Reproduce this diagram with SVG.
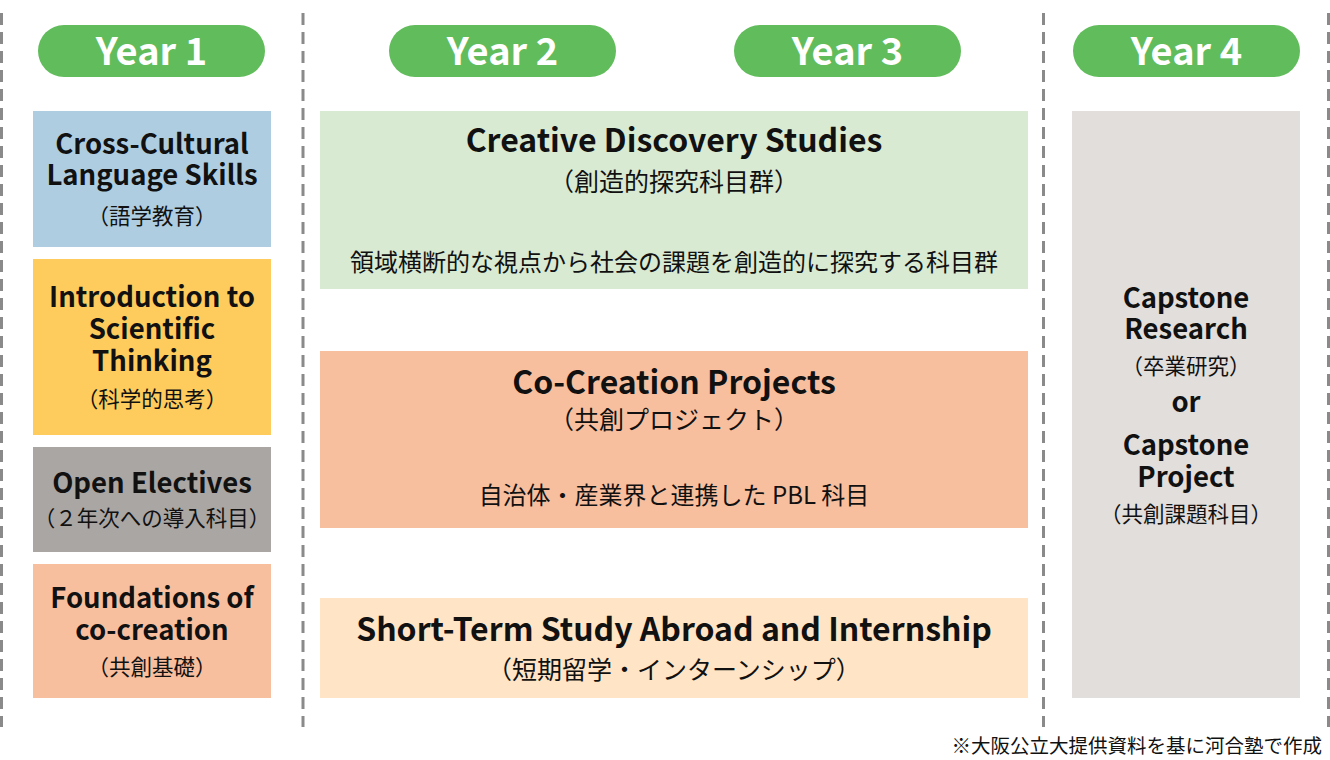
<svg xmlns="http://www.w3.org/2000/svg" width="1330" height="760" viewBox="0 0 1330 760">
<style>
text{font-family:"Noto Sans CJK JP","Noto Sans",sans-serif;fill:#111;text-anchor:middle}
.yr{fill:#fff;font-weight:700;font-size:38px}
.pill{fill:#61bc5b}
.en{font-weight:700;font-size:27.5px}
.enm{font-weight:700;font-size:32px}
.jp{font-size:21.5px}
.jpm{font-size:25px}
.desc{font-size:24px}
.sep{stroke:#8a8a8a;stroke-width:3;stroke-dasharray:12 7;fill:none}
</style>
<rect width="1330" height="760" fill="#fff"/>
<g id="separators">
<line class="sep" x1="1.5" y1="13" x2="1.5" y2="727"/>
<line class="sep" x1="303" y1="13" x2="303" y2="727"/>
<line class="sep" x1="1043.5" y1="13" x2="1043.5" y2="727"/>
<line class="sep" x1="1328.5" y1="13" x2="1328.5" y2="727"/>
</g>
<g id="year1"><rect class="pill" x="38" y="25" width="227" height="52" rx="26"/><text class="yr" x="151.5" y="65">Year 1</text></g>
<g id="year2"><rect class="pill" x="389" y="25" width="227" height="52" rx="26"/><text class="yr" x="502.5" y="65">Year 2</text></g>
<g id="year3"><rect class="pill" x="734" y="25" width="227" height="52" rx="26"/><text class="yr" x="847.5" y="65">Year 3</text></g>
<g id="year4"><rect class="pill" x="1073" y="25" width="227" height="52" rx="26"/><text class="yr" x="1186.5" y="65">Year 4</text></g>

<g id="cross-cultural">
<rect x="33" y="111" width="238" height="136" fill="#aecde1"/>
<text class="en" x="152" y="154">Cross-Cultural</text>
<text class="en" x="152" y="185">Language Skills</text>
<text class="jp" x="152" y="224">（語学教育）</text>
</g>
<g id="scientific-thinking">
<rect x="33" y="259" width="238" height="176" fill="#fecb5d"/>
<text class="en" x="152" y="307">Introduction to</text>
<text class="en" x="152" y="339">Scientific</text>
<text class="en" x="152" y="371">Thinking</text>
<text class="jp" x="152" y="407">（科学的思考）</text>
</g>
<g id="open-electives">
<rect x="33" y="447" width="238" height="105" fill="#aaa6a4"/>
<text class="en" x="152" y="493">Open Electives</text>
<text class="jp" x="152" y="526">（２年次への導入科目）</text>
</g>
<g id="foundations">
<rect x="33" y="564" width="238" height="134" fill="#f8bf9f"/>
<text class="en" x="152" y="608">Foundations of</text>
<text class="en" x="152" y="640">co-creation</text>
<text class="jp" x="152" y="675">（共創基礎）</text>
</g>

<g id="creative-discovery">
<rect x="320" y="111" width="708" height="178" fill="#d9ead3"/>
<text class="enm" x="674" y="152">Creative Discovery Studies</text>
<text class="jpm" x="674" y="191">（創造的探究科目群）</text>
<text class="desc" x="674" y="271">領域横断的な視点から社会の課題を創造的に探究する科目群</text>
</g>
<g id="co-creation">
<rect x="320" y="351" width="708" height="177" fill="#f8bf9f"/>
<text class="enm" x="674" y="394">Co-Creation Projects</text>
<text class="jpm" x="674" y="429">（共創プロジェクト）</text>
<text class="desc" x="674" y="504">自治体・産業界と連携した PBL 科目</text>
</g>
<g id="study-abroad">
<rect x="320" y="598" width="708" height="100" fill="#ffe5c5"/>
<text class="enm" x="674" y="641">Short-Term Study Abroad and Internship</text>
<text class="jpm" x="674" y="679">（短期留学・インターンシップ）</text>
</g>

<g id="capstone">
<rect x="1072" y="111" width="228" height="587" fill="#e2dedb"/>
<text class="en" x="1186" y="308">Capstone</text>
<text class="en" x="1186" y="339">Research</text>
<text class="jp" x="1186" y="374">（卒業研究）</text>
<text class="en" x="1186" y="412">or</text>
<text class="en" x="1186" y="455">Capstone</text>
<text class="en" x="1186" y="487">Project</text>
<text class="jp" x="1186" y="522">（共創課題科目）</text>
</g>

<text x="1322" y="753" style="text-anchor:end;font-size:19.5px">※大阪公立大提供資料を基に河合塾で作成</text>
</svg>
